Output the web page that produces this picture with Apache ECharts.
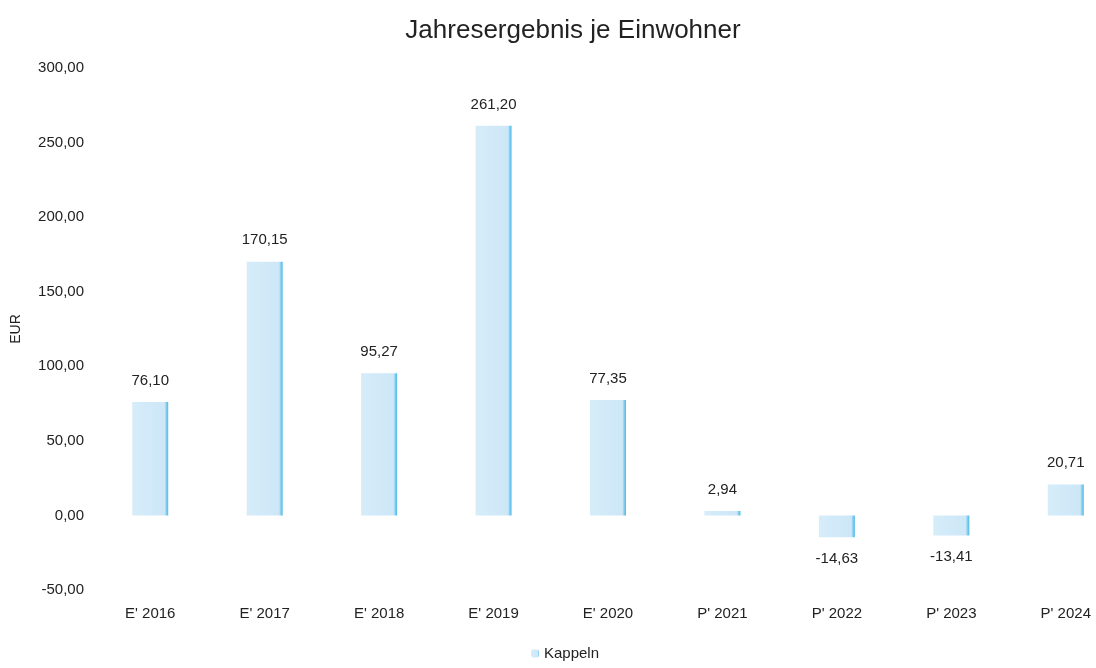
<!DOCTYPE html>
<html>
<head>
<meta charset="utf-8">
<script src="https://cdn.jsdelivr.net/npm/echarts@6/dist/echarts.min.js"></script>
<style>
  html, body { margin: 0; padding: 0; background: #fff; }
  #chart { width: 1096px; height: 668px; }
</style>
</head>
<body>
<div id="chart"></div>
<script>
// Kategorien (E' = Ergebnis, P' = Plan)
var categories = ["E' 2016", "E' 2017", "E' 2018", "E' 2019", "E' 2020", "P' 2021", "P' 2022", "P' 2023", "P' 2024"]
// Jahresergebnis je Einwohner in EUR
var kappeln = [76.10, 170.15, 95.27, 261.20, 77.35, 2.94, -14.63, -13.41, 20.71]
var seriesName = 'Kappeln'
var yMin = -50
var yMax = 300
var yStep = 50

function deNum (v) {
    return v.toFixed(2).replace('.', ',')
}

var chart = echarts.init(document.getElementById('chart'))

var barColor = new echarts.graphic.LinearGradient(0, 0, 1, 0, [
    { offset: 0, color: '#d6ecf9' },
    { offset: 0.9, color: '#cde7f7' },
    { offset: 0.95, color: '#7fcdf0' },
    { offset: 1, color: '#4fb9e6' }
])

chart.setOption({
    animation: false,
    textStyle: { fontFamily: 'Liberation Sans, Arial, sans-serif' },
    title: {
        text: 'Jahresergebnis je Einwohner',
        left: 568,
        textAlign: 'center',
        top: 13,
        textStyle: { fontSize: 26, fontWeight: 'normal', color: '#222' }
    },
    legend: {
        bottom: 2,
        left: 526,
        itemWidth: 8,
        itemHeight: 8,
        itemGap: 3,
        textStyle: { fontSize: 15, color: '#222' },
        data: [seriesName]
    },
    grid: {
        left: 93,
        top: 68,
        width: 1030,
        height: 522,
        outerBoundsMode: 'none',
        containLabel: false
    },
    xAxis: {
        type: 'category',
        data: categories,
        position: 'bottom',
        axisLine: { show: false, onZero: false },
        axisTick: { show: false },
        axisLabel: { fontSize: 15, color: '#222', margin: 16 }
    },
    yAxis: {
        type: 'value',
        min: yMin,
        max: yMax,
        interval: yStep,
        name: 'EUR',
        nameLocation: 'middle',
        nameGap: 70,
        nameTextStyle: { fontSize: 14, color: '#222' },
        splitLine: { show: false },
        axisLine: { show: false },
        axisTick: { show: false },
        axisLabel: {
            fontSize: 15,
            color: '#222',
            margin: 9,
            formatter: function (v) { return deNum(v) }
        }
    },
    series: [
        {
            name: seriesName,
            type: 'bar',
            barWidth: 36,
            itemStyle: { color: barColor },
            data: kappeln.map(function (v) {
                return {
                    value: v,
                    label: { position: v < 0 ? 'bottom' : 'top' }
                }
            }),
            label: {
                show: true,
                distance: 14,
                fontSize: 15,
                color: '#222',
                formatter: function (p) { return deNum(p.value) }
            }
        }
    ]
})
</script>
</body>
</html>
